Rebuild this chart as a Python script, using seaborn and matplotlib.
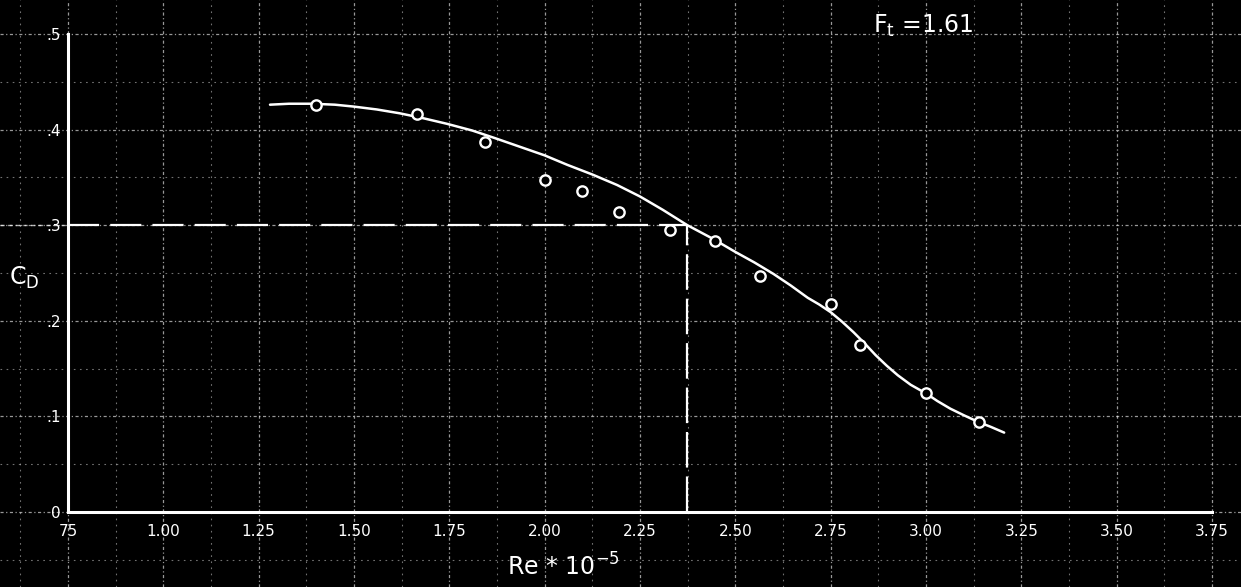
import numpy as np
import matplotlib
matplotlib.use('Agg')
import matplotlib.pyplot as plt
import seaborn as sns
import pandas as pd

# Datos (Re * 10^-5 frente a C_D)
re_puntos = [1.40, 1.665, 1.843, 2.00, 2.097, 2.194, 2.33, 2.447, 2.565, 2.75, 2.826, 3.00, 3.138]
cd_puntos = [0.426, 0.416, 0.387, 0.347, 0.336, 0.314, 0.295, 0.283, 0.247, 0.217, 0.175, 0.124, 0.094]

# Curva trazada a mano
re_curva = [1.28, 1.33, 1.39, 1.45, 1.50, 1.56, 1.62, 1.68, 1.744, 1.81, 1.87, 1.935, 2.00, 2.06,
            2.125, 2.19, 2.25, 2.31, 2.374, 2.44, 2.50, 2.55, 2.60, 2.645, 2.69, 2.72, 2.75, 2.78,
            2.81, 2.84, 2.868, 2.897, 2.926, 2.96, 3.00, 3.03, 3.064, 3.10, 3.138, 3.17, 3.205]
cd_curva = [0.426, 0.427, 0.427, 0.426, 0.424, 0.421, 0.417, 0.412, 0.406, 0.399, 0.391, 0.382,
            0.373, 0.363, 0.353, 0.342, 0.330, 0.316, 0.300, 0.286, 0.272, 0.261, 0.249, 0.237,
            0.224, 0.217, 0.209, 0.199, 0.188, 0.176, 0.164, 0.153, 0.143, 0.133, 0.124, 0.116,
            0.108, 0.101, 0.094, 0.089, 0.083]

x_ticks = [0.75, 1.00, 1.25, 1.50, 1.75, 2.00, 2.25, 2.50, 2.75, 3.00, 3.25, 3.50, 3.75]
x_labels = ['75', '1.00', '1.25', '1.50', '1.75', '2.00', '2.25', '2.50', '2.75', '3.00', '3.25', '3.50', '3.75']
y_ticks = [0, 0.1, 0.2, 0.3, 0.4, 0.5]
y_labels = ['0', '.1', '.2', '.3', '.4', '.5']

re_ref = 2.374   # cruce de la curva con C_D = .3
cd_ref = 0.3
ft_texto = r'F$_\mathregular{t}$ =1.61'

sns.set_theme(style='darkgrid', rc={
    'axes.facecolor': 'black',
    'figure.facecolor': 'black',
    'grid.color': 'white',
    'text.color': 'white',
    'xtick.color': 'white',
    'ytick.color': 'white',
})
plt.rcParams['font.family'] = ['DejaVu Sans']

fig = plt.figure(figsize=(12.41, 5.87), dpi=100)
ax = fig.add_axes([0, 0, 1, 1])

df_curva = pd.DataFrame({'re': re_curva, 'cd': cd_curva})
df_puntos = pd.DataFrame({'re': re_puntos, 'cd': cd_puntos})
sns.lineplot(data=df_curva, x='re', y='cd', ax=ax, color='white', lw=1.8, sort=False)
sns.scatterplot(data=df_puntos, x='re', y='cd', ax=ax, marker='o', s=55,
                facecolor='black', edgecolor='white', linewidth=1.7, zorder=5)

# Lineas de referencia a trazos
ax.plot([0.75, re_ref], [cd_ref, cd_ref], color='white', lw=1.6, linestyle=(0, (14, 5)))
ax.plot([0.572, 0.75], [cd_ref, cd_ref], color='white', lw=1.0, linestyle=(0, (3, 2.5)), alpha=0.7)
ax.plot([re_ref, re_ref], [0, cd_ref], color='white', lw=1.6, linestyle=(0, (16, 4)))

# Rejilla del papel milimetrado
ax.set_xticks(x_ticks)
ax.set_xticklabels(x_labels, fontsize=15)
ax.set_yticks(y_ticks)
ax.set_yticklabels(y_labels, fontsize=16)
ax.set_xticks([t + 0.125 for t in [0.5] + x_ticks], minor=True)
ax.set_yticks([t + 0.05 for t in [-0.1] + y_ticks], minor=True)
ax.grid(which='major', color='white', linestyle=(0, (2.5, 2, 1, 2)), linewidth=0.9, alpha=0.6)
ax.grid(which='minor', color='white', linestyle=(0, (1.5, 4)), linewidth=0.8, alpha=0.45)
ax.tick_params(which='both', length=0, pad=5)
ax.tick_params(axis='x', pad=9)

# Ejes dibujados a mano
for lado in ['top', 'right']:
    ax.spines[lado].set_visible(False)
ax.spines['left'].set_position(('data', 0.75))
ax.spines['left'].set_bounds(0, 0.5)
ax.spines['bottom'].set_position(('data', 0))
ax.spines['bottom'].set_bounds(0.75, 3.75)
for lado in ['left', 'bottom']:
    ax.spines[lado].set_color('white')
    ax.spines[lado].set_linewidth(2.2)
    ax.spines[lado].set_visible(True)

ax.set_xlabel('')
ax.set_ylabel('')
ax.text(0.635, 0.245, r'C$_\mathregular{D}$', fontsize=17, ha='center', va='center')
ax.text(2.05, -0.058, r'Re * 10$^{-5}$', fontsize=17, ha='center', va='center')
ax.text(2.86, 0.508, ft_texto, fontsize=17, ha='left', va='center')

ax.set_xlim(0.572, 3.826)
ax.set_ylim(-0.0785, 0.5355)

fig.savefig('out.png', dpi=100, facecolor='black')
